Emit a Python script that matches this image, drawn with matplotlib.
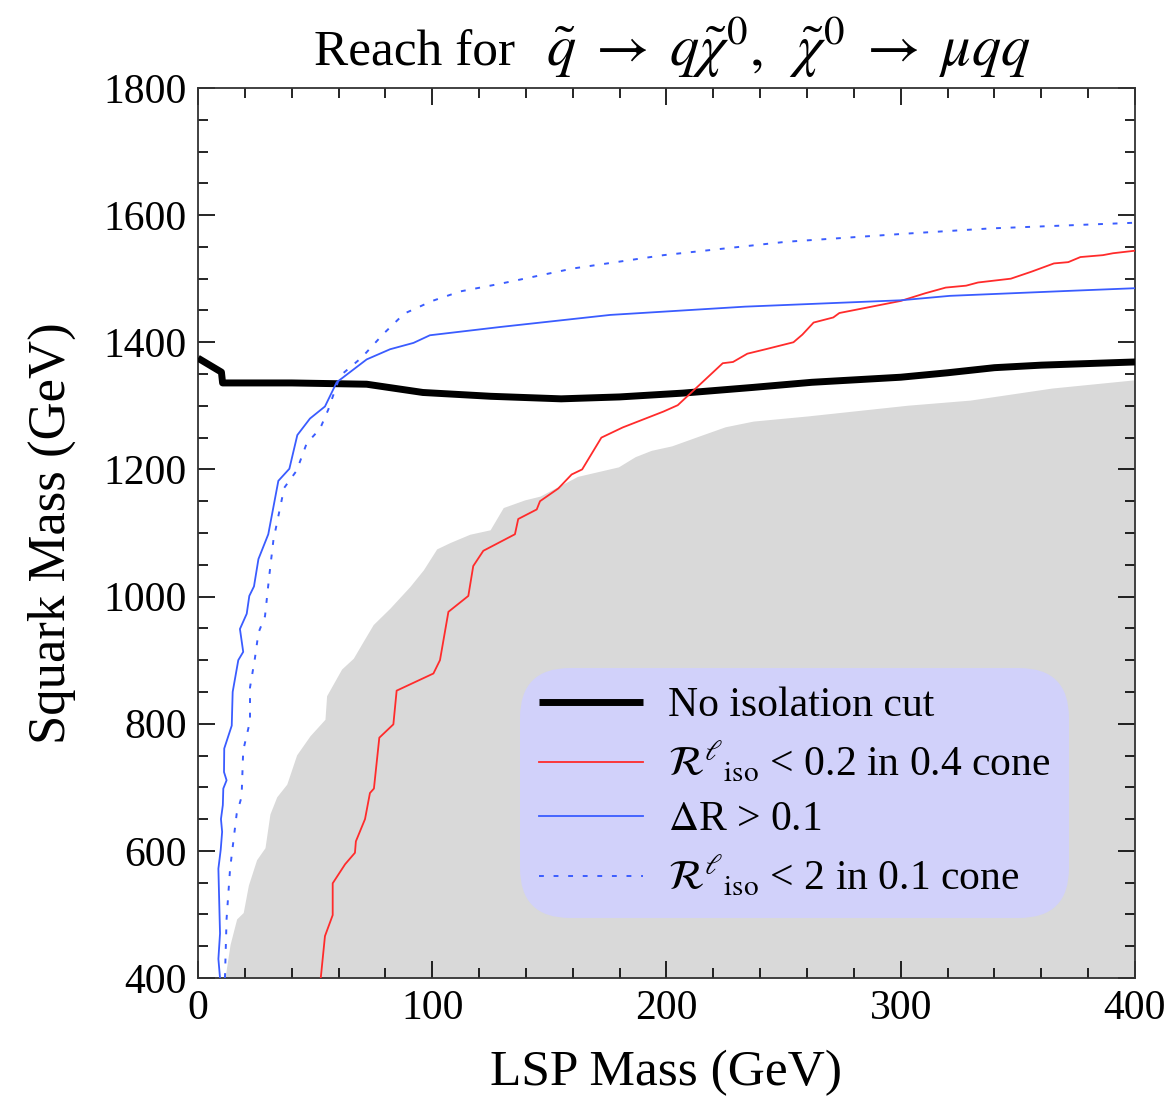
import matplotlib
matplotlib.use("Agg")
import matplotlib.pyplot as plt
import matplotlib.ticker as ticker

plt.rcParams['font.family'] = ['Liberation Serif', 'DejaVu Serif']
plt.rcParams['mathtext.fontset'] = 'stix'

# no isolation cut (thick black)
black_x = [0, 10, 10.5, 40, 72, 96, 125, 155, 180, 207, 237, 262, 300, 320, 340, 360, 400]
black_y = [1375, 1353, 1336, 1336, 1334, 1321, 1315, 1311, 1314, 1320, 1329, 1337, 1345, 1352, 1360, 1364, 1369]

# R_iso < 0.2 in 0.4 cone (red)
red_x = [52.4, 54.2, 57.5, 57.5, 62.8, 67, 67.4, 71.3, 73.4, 75.1, 77.4, 83.4, 84.8, 100.5, 103.3,
         106.9, 115.4, 117.5, 121.8, 135.3, 136.7, 144.6, 146, 153.8, 159.5, 164, 172.2, 181.3,
         198.7, 204.8, 224, 228.4, 234.5, 242.3, 254.2, 258, 262.8, 271.2, 273.8, 300, 310.4,
         319.2, 327.9, 333, 347, 355.8, 365.4, 371.5, 376.7, 386.3, 390.6, 400]
red_y = [400, 466, 499, 549, 579, 597, 615, 650, 691, 698, 778, 799, 852, 879, 900,
         976, 1001, 1048, 1072, 1098, 1122, 1137, 1150, 1170, 1192, 1200, 1250, 1266,
         1291, 1301, 1367, 1369, 1382, 1389, 1400, 1412, 1431, 1439, 1446, 1465, 1477,
         1486, 1489, 1494, 1500, 1511, 1524, 1526, 1534, 1537, 1540, 1544]

# Delta R > 0.1 (blue solid)
blue_x = [9.4, 8.7, 9.4, 8.7, 9.7, 10.3, 9.8, 10.6, 10.8, 12.2, 11.1, 11.2, 14.4, 14.8, 17.2,
          19.3, 17.9, 20.8, 21.9, 23.9, 25.8, 30, 34.3, 39, 42.4, 47.8, 54.2, 59.2, 72, 82,
          92, 99, 129, 176, 233.5, 300, 321, 373, 400]
blue_y = [400, 430, 470, 572, 602, 630, 650, 672, 698, 711, 724, 761, 797, 850, 900,
          913, 949, 973, 1001, 1016, 1059, 1098, 1182, 1201, 1254, 1280, 1299, 1337, 1373, 1389,
          1399, 1411, 1424, 1443, 1456, 1466, 1473, 1481, 1485]

# R_iso < 2 in 0.1 cone (blue dotted)
dot_x = [11.5, 12.2, 13.7, 16.5, 18.6, 19.3, 22.2, 22.2, 24.3, 25.8, 28.6, 30.4, 32.2, 36.8,
         42.1, 46.4, 52.1, 55.6, 60.6, 69.9, 79.1, 88, 100, 112, 129, 160, 198.7, 251, 303, 338, 400]
dot_y = [400, 493, 572, 658, 685, 758, 804, 857, 903, 943, 969, 1032, 1089, 1171,
         1198, 1241, 1264, 1294, 1347, 1376, 1413, 1445, 1465, 1480, 1492, 1516, 1537, 1558, 1571, 1579, 1588]

# gray excluded region, upper edge
gray_x = [11.5, 13.7, 16.5, 19.3, 21.5, 25, 28.6, 30.7, 33.6, 37.9, 42.1, 47.8, 54.2, 54.9, 61.3,
          66.3, 70.6, 74.8, 82, 90.5, 96.2, 101.9, 107.6, 116, 124.7, 130.3, 139.4, 146, 162,
          179.5, 186.6, 193.5, 202.2, 214.3, 225, 237, 260, 303, 329.6, 364.6, 400]
gray_y = [400, 453, 493, 503, 546, 586, 605, 658, 685, 705, 751, 781, 807, 844, 886,
          903, 930, 956, 982, 1016, 1042, 1075, 1085, 1098, 1105, 1140, 1152, 1158, 1189,
          1204, 1220, 1230, 1237, 1253, 1267, 1276, 1284, 1301, 1309, 1328, 1341]

labels = ["No isolation cut",
          r"$\mathcal{R}^{\ell}{}_{\rm iso}$ < 0.2 in 0.4 cone",
          r"$\Delta$R > 0.1",
          r"$\mathcal{R}^{\ell}{}_{\rm iso}$ < 2 in 0.1 cone"]

red = '#ff2b2b'
blue = '#3a5cff'

fig = plt.figure(figsize=(11.73, 11.09), dpi=100)
ax = fig.add_axes([0.1688, 0.1181, 0.7988, 0.8026])

ax.fill_between(gray_x, 400, gray_y, color='#d9d9d9', lw=0, zorder=1)
ax.plot(black_x, black_y, color='black', lw=5, solid_capstyle='butt', label=labels[0], zorder=3)
ax.plot(red_x, red_y, color=red, lw=1.3, label=labels[1], zorder=3)
ax.plot(blue_x, blue_y, color=blue, lw=1.3, label=labels[2], zorder=3)
ax.plot(dot_x, dot_y, color=blue, lw=1.4, dashes=(2.5, 5), label=labels[3], zorder=3)

ax.set_xlim(0, 400)
ax.set_ylim(400, 1800)
ax.xaxis.set_major_locator(ticker.MultipleLocator(100))
ax.xaxis.set_minor_locator(ticker.MultipleLocator(20))
ax.yaxis.set_major_locator(ticker.MultipleLocator(200))
ax.yaxis.set_minor_locator(ticker.MultipleLocator(50))
ax.tick_params(which='both', direction='in', top=True, right=True, labelsize=30, width=1.2)
ax.tick_params(which='major', length=12, pad=8)
ax.tick_params(which='minor', length=7)
for s in ax.spines.values():
    s.set_linewidth(1.3)
    s.set_color('#333333')

ax.set_xlabel("LSP Mass (GeV)", fontsize=37, labelpad=16)
ax.set_ylabel("Squark Mass (GeV)", fontsize=38, labelpad=20)

# title: plain text part plus a larger math part
ax.text(0.1238, 1.0247, "Reach for", fontsize=37, ha='left', va='baseline',
        transform=ax.transAxes)
ax.text(0.3714, 1.0247,
        r"$\tilde{q}\;\rightarrow\;q\tilde{\chi}^0,\;\;\tilde{\chi}^0\;\rightarrow\;\mu q q$",
        fontsize=42, ha='left', va='baseline', transform=ax.transAxes)

leg = ax.legend(loc='lower left', bbox_to_anchor=(0.3437, 0.0674), borderaxespad=0,
                fontsize=30, handlelength=2.5, handletextpad=0.6, labelspacing=0.36,
                borderpad=0.45, fancybox=True, framealpha=1)
frame = leg.get_frame()
frame.set_facecolor('#d1d1fa')
frame.set_edgecolor('none')
frame.set_boxstyle('round,pad=0.,rounding_size=1.2')
leg.set_zorder(5)

fig.savefig("out.png", dpi=100)
